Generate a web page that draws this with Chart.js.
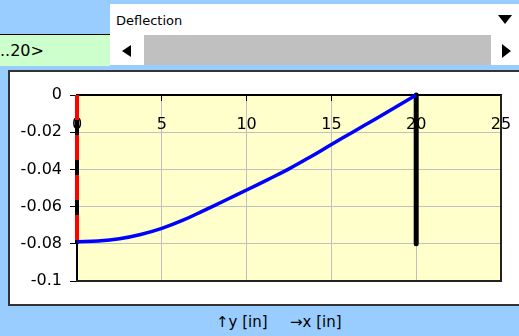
<!DOCTYPE html>
<html>
<head>
<meta charset="utf-8">
<script src="https://cdn.jsdelivr.net/npm/chart.js@4/dist/chart.umd.min.js"></script>
<style>
  body { margin: 0; width: 519px; height: 336px; background: #99ccff; position: relative; overflow: hidden;
         font-family: 'DejaVu Sans', sans-serif; color: #000; }
  .abs { position: absolute; }
  #range { left: 0; top: 34px; width: 110px; height: 31px; background: #ccffcc; border-top: 1px solid #000;
           font-size: 16px; line-height: 31px; }
  #drop { left: 110px; top: 4px; width: 409px; height: 61px; background: #fff; }
  #drop .lbl { left: 6px; top: 9px; font-size: 13px; }
  #drop .bar { left: 34px; top: 31px; width: 347px; height: 30px; background: #c0c0c0; }
  .tri { width: 0; height: 0; }
  #box { left: 8px; top: 70px; width: 515px; height: 232px; background: #fff; border: 2px solid #333; }
  .cap { top: 313px; font-size: 15px; }
</style>
</head>
<body>
<div id="range" class="abs">..20&gt;</div>
<div id="drop" class="abs">
  <div class="abs lbl">Deflection</div>
  <div class="abs tri" style="left:388px;top:11px;border-left:7px solid transparent;border-right:7px solid transparent;border-top:9px solid #000;"></div>
  <div class="abs tri" style="left:12px;top:41px;border-top:6px solid transparent;border-bottom:6px solid transparent;border-right:9px solid #000;"></div>
  <div class="abs bar"></div>
  <div class="abs tri" style="left:392px;top:40px;border-top:7px solid transparent;border-bottom:7px solid transparent;border-left:9px solid #000;"></div>
</div>
<div id="box" class="abs">
  <canvas id="chart" width="509" height="230"></canvas>
</div>
<div class="abs cap" style="left:216px;">↑y [in]</div>
<div class="abs cap" style="left:290px;">→x [in]</div>

<script>
// beam deflection curve
const beamX = [0, 1.25, 2.5, 3.75, 5, 6.25, 7.5, 8.75, 10, 11.25, 12.5, 13.75, 15, 16.25, 17.5, 18.75, 20];
const beamY = [-0.0789, -0.0785, -0.0773, -0.0750, -0.0717, -0.0673, -0.0620, -0.0566, -0.0511,
               -0.0455, -0.0397, -0.0333, -0.0266, -0.0200, -0.0134, -0.0067, 0];
// supports
const leftSupportX = [0, 0];
const leftSupportY = [0, -0.08];
const rightSupportX = [20, 20];
const rightSupportY = [0, -0.08];
// axes
const xTicks = [0, 5, 10, 15, 20, 25];
const yTicks = [0, -0.02, -0.04, -0.06, -0.08, -0.1];

const pts = (xs, ys) => xs.map((x, i) => ({ x: x, y: ys[i] }));

const plotBox = {
  id: 'plotBox',
  beforeDraw(chart) {
    const a = chart.chartArea, c = chart.ctx;
    c.save();
    c.fillStyle = '#ffffcc';
    c.fillRect(a.left, a.top, a.right - a.left, a.bottom - a.top);
    c.restore();
  },
  afterDraw(chart) {
    const a = chart.chartArea, c = chart.ctx;
    c.save();
    c.strokeStyle = '#222';
    c.lineWidth = 2;
    c.beginPath();
    c.moveTo(a.right, a.top);
    c.lineTo(a.right, a.bottom);
    c.lineTo(a.left - 1, a.bottom);
    c.stroke();
    c.restore();
  }
};

Chart.defaults.font.family = "'DejaVu Sans', sans-serif";
Chart.defaults.font.size = 16;
Chart.defaults.color = '#000';

new Chart(document.getElementById('chart'), {
  type: 'line',
  data: {
    datasets: [
      { data: pts(leftSupportX, leftSupportY), borderColor: '#ff0000', borderWidth: 4, borderDash: [25, 15], order: 0, clip: false },
      { data: pts(beamX, beamY), borderColor: '#0000ff', borderWidth: 3.5, tension: 0.4, order: 1, clip: false },
      { data: pts(leftSupportX, leftSupportY), borderColor: '#000000', borderWidth: 4, order: 2, clip: false },
      { data: pts(rightSupportX, rightSupportY), borderColor: '#000000', borderWidth: 5, borderCapStyle: 'round', order: 2, clip: false }
    ]
  },
  options: {
    responsive: false,
    animation: false,
    events: [],
    layout: { padding: { left: 0, right: 18, top: 0, bottom: 21 } },
    elements: { point: { radius: 0 } },
    plugins: { legend: { display: false }, tooltip: { enabled: false } },
    scales: {
      x: {
        type: 'linear',
        position: 'top',
        min: 0, max: 25,
        afterBuildTicks: s => { s.ticks = xTicks.map(v => ({ value: v })); },
        afterFit: s => { s.height = 23; s.paddingLeft = 0; s.paddingRight = 0; },
        ticks: { mirror: true, padding: 20, maxRotation: 0, callback: v => String(v) },
        grid: { color: '#c0c0c0', tickColor: '#000', tickLength: -6, lineWidth: 1 },
        border: { color: '#000', width: 2 }
      },
      y: {
        type: 'linear',
        min: -0.1, max: 0,
        afterBuildTicks: s => { s.ticks = yTicks.map(v => ({ value: v })); },
        afterFit: s => { s.width = 67; s.paddingTop = 0; s.paddingBottom = 0; },
        ticks: { padding: 8, callback: v => String(+Number(v).toFixed(2)) },
        grid: { color: '#c0c0c0', tickColor: '#000', tickLength: 7, lineWidth: 1 },
        border: { color: '#000', width: 2 }
      }
    }
  },
  plugins: [plotBox]
});
</script>
</body>
</html>
